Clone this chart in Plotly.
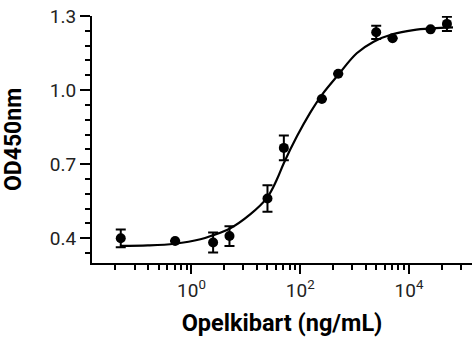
import plotly.graph_objects as go

# Data points (concentration ng/mL, mean OD450, SD)
conc = [0.05, 0.5, 2.5, 5, 25, 50, 250, 500, 2500, 5000, 25000, 50000]
od = [0.400, 0.389, 0.383, 0.409, 0.561, 0.766, 0.964, 1.066, 1.234, 1.210, 1.246, 1.268]
sd = [0.036, 0.0, 0.040, 0.040, 0.054, 0.050, 0.0, 0.0, 0.027, 0.0, 0.0, 0.029]

# Fitted curve (concentration, OD)
fit_conc = [0.05, 0.158, 0.49, 1.46, 2.45, 5.0, 12.0, 24.5, 37.2, 50.1, 87.1, 151, 251, 501,
            1096, 2239, 5129, 12023, 26303, 64565]
fit_od = [0.369, 0.371, 0.378, 0.396, 0.412, 0.439, 0.497, 0.564, 0.638, 0.705, 0.813, 0.907,
          0.981, 1.062, 1.149, 1.196, 1.227, 1.243, 1.250, 1.254]

x_tickvals = [1, 100, 10000]
x_ticktext = ["10<sup>0</sup>", "10<sup>2</sup>", "10<sup>4</sup>"]
x_minor = [0.04, 0.09, 0.16, 0.25, 0.36, 0.49, 0.64, 0.81,
           4, 9, 16, 25, 36, 49, 64, 81,
           400, 900, 1600, 2500, 3600, 4900, 6400, 8100,
           40000, 90000]
y_tickvals = [0.4, 0.7, 1.0, 1.3]
y_ticktext = ["0.4", "0.7", "1.0", "1.3"]

fig = go.Figure()
fig.add_trace(go.Scatter(
    x=fit_conc, y=fit_od, mode="lines",
    line=dict(color="black", width=2.2, shape="spline"),
    hoverinfo="skip", showlegend=False))
fig.add_trace(go.Scatter(
    x=conc, y=od, mode="markers",
    marker=dict(color="black", size=10),
    error_y=dict(type="data", array=sd, visible=True, color="black", thickness=2, width=5),
    showlegend=False))

fig.update_layout(
    width=474, height=339,
    margin=dict(l=92, r=2, t=16, b=76),
    paper_bgcolor="white", plot_bgcolor="white",
    font=dict(family="Roboto", color="black"),
    xaxis=dict(
        type="log", range=[-1.83, 5.16],
        showgrid=False, zeroline=False,
        showline=True, linecolor="black", linewidth=2,
        ticks="outside", ticklen=9, tickwidth=2, tickcolor="black",
        tickmode="array", tickvals=x_tickvals, ticktext=x_ticktext,
        tickfont=dict(family="Roboto", size=19, color="#222"),
        minor=dict(tickmode="array", tickvals=x_minor, ticks="outside",
                   ticklen=5, tickwidth=2, tickcolor="black", showgrid=False),
        title=dict(text="<b>Opelkibart (ng/mL)</b>",
                   font=dict(family="Roboto", size=23.5, color="black"), standoff=14),
    ),
    yaxis=dict(
        range=[0.3, 1.3],
        showgrid=False, zeroline=False,
        showline=True, linecolor="black", linewidth=2,
        ticks="outside", ticklen=10, tickwidth=2, tickcolor="black",
        tickmode="array", tickvals=y_tickvals, ticktext=y_ticktext,
        tickfont=dict(family="Roboto", size=19, color="#222"),
        minor=dict(tickmode="linear", tick0=0.4, dtick=0.06, ticks="outside",
                   ticklen=5, tickwidth=2, tickcolor="black", showgrid=False),
        title=dict(text="<b>OD450nm</b>",
                   font=dict(family="Roboto", size=23, color="black"), standoff=29),
    ),
)

fig.write_html("out.html")
